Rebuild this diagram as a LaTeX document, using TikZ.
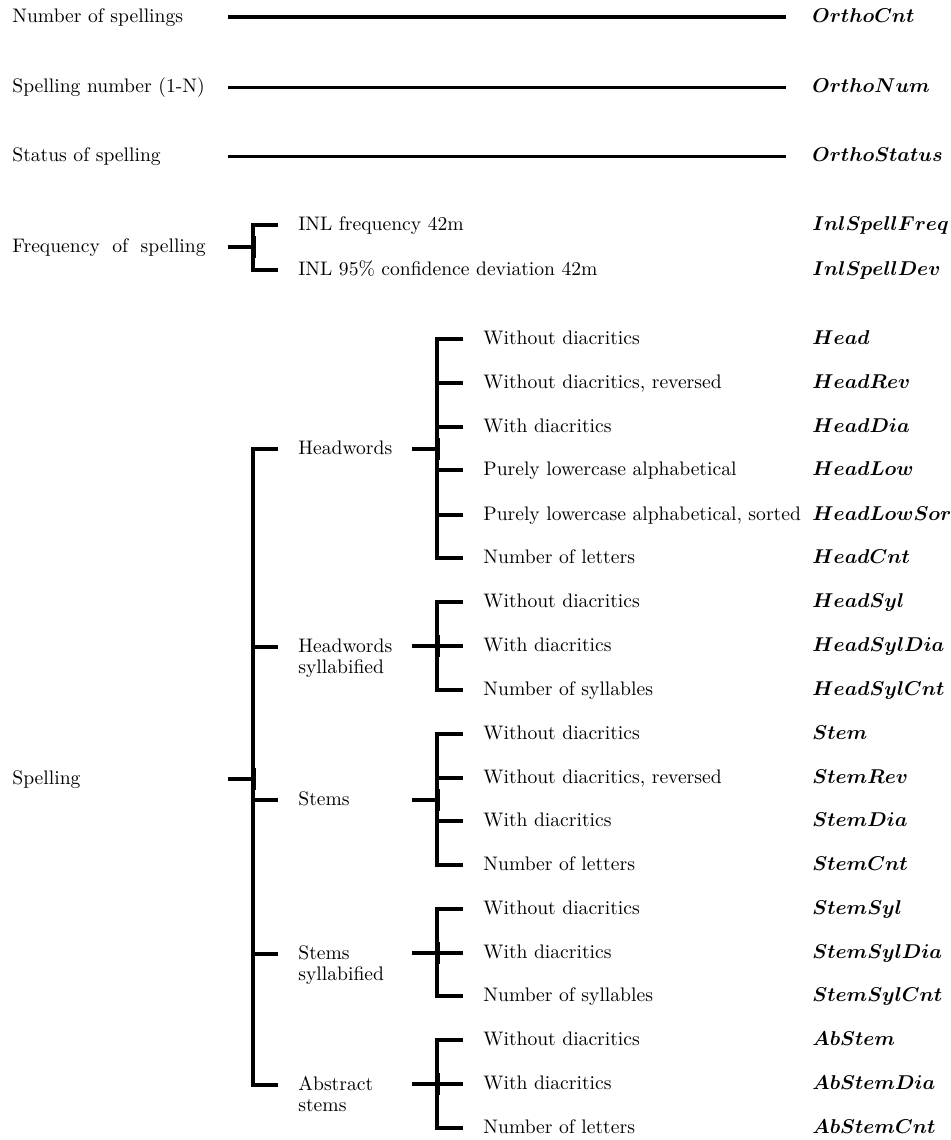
\documentclass[tikz,border=0pt]{standalone}
\begin{document}
\begin{tikzpicture}[x=0.5pt,y=-0.5pt,
  lbl/.style={anchor=mid west, inner sep=0pt, yshift=-0.8pt, font=\fontsize{9.8}{10.5}\selectfont},
  fld/.style={anchor=mid west, inner sep=0pt, yshift=-0.8pt, font=\fontsize{9.8}{10.5}\selectfont\boldmath},
  wire/.style={line width=1.65pt, line join=miter},
  rule/.style={line width=1.5pt},
  knotmark/.style={line width=1.3pt}]
\useasboundingbox (0,0) rectangle (951,1140);

% bracket: bar at x=#1 from y=#2 to y=#3, tips reaching x=#4
\newcommand\twig[4]{\draw[wire] (#4,#2) -- (#1,#2) -- (#1,#3) -- (#4,#3);}
% incoming stub from x=#1 to the bar at x=#2, at height #3
\newcommand\feed[3]{\draw[wire] (#1,#3) -- (#2,#3);
  \draw[knotmark] (#2+1.3,#3-11) -- (#2+1.3,#3+11);}

% ---- plain attributes ----
\node[lbl] (ocnt) at (12,17) {Number of spellings};
\node[fld] (focnt) at (812,17) {$OrthoCnt$};
\coordinate (ocntA) at (228,17); \coordinate (ocntB) at (786,17);
\draw[line width=2pt] (ocntA) -- (ocntB);

\node[lbl] (onum) at (12,87) {Spelling number (1-N)};
\node[fld] (fonum) at (812,87) {$OrthoNum$};
\coordinate (onumA) at (228,87); \coordinate (onumB) at (786,87);
\draw[rule] (onumA) -- (onumB);

\node[lbl] (ostat) at (12,156) {Status of spelling};
\node[fld] (fostat) at (812,156) {$OrthoStatus$};
\coordinate (ostatA) at (228,156); \coordinate (ostatB) at (786,156);
\draw[rule] (ostatA) -- (ostatB);

% ---- frequency ----
\node[lbl] (freq) at (12,247) {Frequency\hspace{3pt} of\hspace{3pt} spelling};
\feed{228}{253}{247}
\twig{253}{225}{270}{278}
\node[lbl] (inlf) at (298,225) {INL frequency 42m};
\node[lbl] (inld) at (298,270) {INL 95\% confidence deviation 42m};
\node[fld] (finlf) at (812,225) {$InlSpellFreq$};
\node[fld] (finld) at (812,270) {$InlSpellDev$};

% ---- spelling tree, first level ----
\node[lbl] (spel) at (12,779) {Spelling};
\feed{228}{253}{779}
\twig{253}{449}{1085}{278}
\draw[wire] (253,647) -- (278,647);
\draw[wire] (253,800) -- (278,800);
\draw[wire] (253,954) -- (278,954);

\node[lbl] (hw) at (298,449) {Headwords};
\node[lbl] (hws) at (298,647) {\begin{tabular}[t]{@{}l@{}}Headwords\\syllabified\end{tabular}};
\node[lbl] (st) at (298,800) {Stems};
\node[lbl] (sts) at (298,954) {\begin{tabular}[t]{@{}l@{}}Stems\\syllabified\end{tabular}};
\node[lbl] (abs) at (298,1085) {\begin{tabular}[t]{@{}l@{}}Abstract\\stems\end{tabular}};

% ---- second level ----
% headwords
\feed{412}{437}{449}
\twig{437}{339}{558}{463}
\foreach \y in {383,427,470,515} {\draw[wire] (437,\y) -- (463,\y);}
% headwords syllabified
\feed{412}{437}{646}
\twig{437}{602}{690}{463}
\draw[wire] (437,646) -- (463,646);
% stems
\feed{412}{437}{800}
\twig{437}{734}{865}{463}
\foreach \y in {778,821} {\draw[wire] (437,\y) -- (463,\y);}
% stems syllabified
\feed{412}{437}{953}
\twig{437}{909}{996}{463}
\draw[wire] (437,953) -- (463,953);
% abstract stems
\feed{412}{437}{1084}
\twig{437}{1040}{1128}{463}
\draw[wire] (437,1084) -- (463,1084);

% leaves
\node[lbl] (l1) at (483,339) {Without diacritics};
\node[lbl] (l2) at (483,383) {Without diacritics, reversed};
\node[lbl] (l3) at (483,427) {With diacritics};
\node[lbl] (l4) at (483,470) {Purely lowercase alphabetical};
\node[lbl] (l5) at (483,515) {Purely lowercase alphabetical, sorted};
\node[lbl] (l6) at (483,558) {Number of letters};
\node[lbl] (l7) at (483,602) {Without diacritics};
\node[lbl] (l8) at (483,646) {With diacritics};
\node[lbl] (l9) at (483,690) {Number of syllables};
\node[lbl] (l10) at (483,734) {Without diacritics};
\node[lbl] (l11) at (483,778) {Without diacritics, reversed};
\node[lbl] (l12) at (483,821) {With diacritics};
\node[lbl] (l13) at (483,865) {Number of letters};
\node[lbl] (l14) at (483,909) {Without diacritics};
\node[lbl] (l15) at (483,953) {With diacritics};
\node[lbl] (l16) at (483,996) {Number of syllables};
\node[lbl] (l17) at (483,1040) {Without diacritics};
\node[lbl] (l18) at (483,1084) {With diacritics};
\node[lbl] (l19) at (483,1128) {Number of letters};

\node[fld] (f1) at (812,339) {$Head$};
\node[fld] (f2) at (812,383) {$HeadRev$};
\node[fld] (f3) at (812,427) {$HeadDia$};
\node[fld] (f4) at (812,470) {$HeadLow$};
\node[fld] (f5) at (812,515) {$HeadLowSor$};
\node[fld] (f6) at (812,558) {$HeadCnt$};
\node[fld] (f7) at (812,602) {$HeadSyl$};
\node[fld] (f8) at (812,646) {$HeadSylDia$};
\node[fld] (f9) at (812,690) {$HeadSylCnt$};
\node[fld] (f10) at (812,734) {$Stem$};
\node[fld] (f11) at (812,778) {$StemRev$};
\node[fld] (f12) at (812,821) {$StemDia$};
\node[fld] (f13) at (812,865) {$StemCnt$};
\node[fld] (f14) at (812,909) {$StemSyl$};
\node[fld] (f15) at (812,953) {$StemSylDia$};
\node[fld] (f16) at (812,996) {$StemSylCnt$};
\node[fld] (f17) at (812,1040) {$AbStem$};
\node[fld] (f18) at (812,1084) {$AbStemDia$};
\node[fld] (f19) at (812,1128) {$AbStemCnt$};
\end{tikzpicture}
\end{document}
